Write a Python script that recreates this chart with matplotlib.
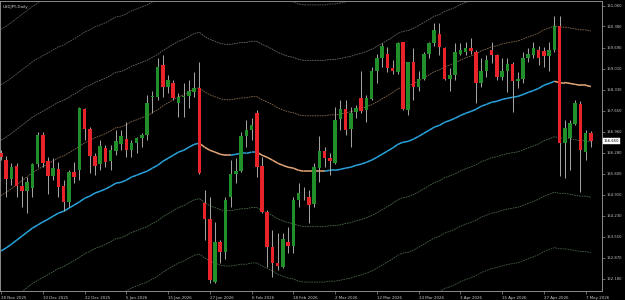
import numpy as np
import pandas as pd
import matplotlib
matplotlib.use("Agg")
import matplotlib.pyplot as plt
from matplotlib.collections import LineCollection

chart_title = "USDJPY,Daily"

# daily bars from 28 Nov 2025, no bars on these days
first_day = "2025-11-28"
no_bar_days = ["2025-12-25", "2026-01-01"]

opens = [156.26, 156.04, 155.42, 155.84, 155.19, 155.03, 155.13, 155.91, 156.85, 156.00,
         155.52, 155.74, 155.19, 154.68, 155.65, 155.71, 157.69, 157.04, 156.17, 155.91,
         156.43, 156.00, 156.33, 156.55, 156.72, 156.36, 156.59, 156.75, 156.85, 158.08,
         158.08, 159.12, 158.40, 158.56, 157.88, 158.08, 158.11, 158.24, 158.37, 154.64,
         154.12, 152.08, 153.38, 153.06, 154.84, 155.58, 155.68, 156.81, 157.01, 157.56,
         155.84, 154.35, 153.22, 152.70, 152.57, 153.38, 153.25, 154.74, 154.96, 154.84,
         154.61, 155.78, 156.33, 156.10, 155.94, 157.36, 157.69, 157.04, 157.59, 158.05,
         157.66, 158.01, 158.92, 159.34, 159.50, 159.02, 158.89, 159.86, 157.66, 159.21,
         158.43, 158.69, 159.47, 159.83, 160.15, 159.67, 158.69, 158.79, 159.50, 159.54,
         159.67, 159.54, 158.53, 158.92, 159.63, 159.44, 158.73, 158.95, 159.15, 158.60,
         158.69, 159.34, 159.44, 159.63, 159.57, 159.41, 159.60, 160.38, 156.59, 156.75,
         157.20, 157.85, 156.30, 156.91]
highs = [156.36, 156.17, 155.94, 155.94, 155.52, 155.49, 155.94, 156.94, 156.94, 156.13,
         156.10, 155.97, 155.39, 155.71, 155.97, 157.75, 157.72, 157.11, 156.26, 156.68,
         156.52, 156.52, 157.01, 157.01, 157.27, 156.68, 156.78, 156.91, 158.17, 158.30,
         159.34, 159.44, 158.79, 158.63, 158.21, 158.56, 158.63, 158.89, 159.24, 155.06,
         154.84, 154.03, 153.45, 154.84, 156.04, 156.10, 156.94, 157.33, 157.40, 157.66,
         156.13, 154.42, 153.77, 153.67, 153.67, 153.87, 154.84, 155.29, 155.16, 155.06,
         155.94, 156.81, 156.46, 156.26, 157.75, 157.98, 157.98, 157.75, 157.82, 158.95,
         158.14, 159.05, 159.50, 159.83, 159.70, 159.28, 159.86, 159.89, 159.24, 159.67,
         158.95, 159.54, 159.86, 160.48, 160.48, 159.70, 159.02, 159.83, 159.83, 159.86,
         160.02, 159.60, 159.34, 159.44, 159.86, 159.50, 159.34, 159.34, 159.21, 158.89,
         159.54, 159.67, 159.86, 159.76, 159.70, 159.86, 160.73, 160.73, 157.33, 157.33,
         157.98, 157.95, 157.01, 156.98]
lows = [156.04, 154.84, 155.23, 154.84, 154.51, 154.32, 154.84, 155.81, 155.81, 154.93,
        155.39, 154.84, 154.38, 154.51, 155.29, 155.39, 156.68, 155.62, 155.55, 155.71,
        155.81, 155.71, 156.20, 156.36, 156.13, 156.13, 156.26, 156.46, 156.68, 157.56,
        157.98, 158.08, 158.21, 157.98, 157.43, 157.43, 157.72, 158.08, 155.60, 153.45,
        152.05, 152.05, 152.70, 152.83, 154.51, 155.29, 155.65, 156.46, 156.68, 155.49,
        154.32, 152.57, 152.25, 152.47, 152.54, 153.02, 153.02, 154.51, 154.74, 153.99,
        154.51, 155.32, 155.81, 155.55, 155.91, 157.01, 156.85, 156.46, 157.40, 157.56,
        157.27, 157.98, 158.56, 159.05, 158.89, 158.85, 158.85, 157.66, 157.50, 157.98,
        158.30, 158.63, 159.37, 159.76, 159.44, 158.63, 158.30, 158.63, 159.44, 159.44,
        159.50, 157.88, 158.40, 158.73, 159.18, 158.63, 158.63, 158.24, 157.59, 158.37,
        158.53, 159.21, 159.37, 159.12, 159.08, 158.95, 159.54, 155.52, 155.45, 155.71,
        157.17, 155.00, 156.04, 156.46]
closes = [156.13, 155.42, 155.81, 155.19, 155.03, 155.32, 155.91, 156.85, 155.94, 155.52,
          155.78, 155.16, 154.68, 155.65, 155.49, 157.72, 157.04, 156.17, 155.84, 156.49,
          155.97, 156.36, 156.65, 156.81, 156.36, 156.59, 156.75, 156.85, 157.88, 158.11,
          159.08, 158.40, 158.63, 158.05, 158.08, 158.11, 158.27, 158.37, 155.62, 154.12,
          152.15, 153.38, 153.06, 154.74, 155.58, 155.68, 156.81, 157.01, 157.17, 155.81,
          154.35, 153.22, 152.70, 152.60, 153.48, 153.25, 154.74, 154.97, 154.97, 154.58,
          155.81, 156.33, 156.10, 156.00, 157.33, 157.69, 157.01, 157.56, 157.72, 157.62,
          158.05, 158.95, 159.34, 159.73, 159.02, 158.95, 159.83, 157.69, 159.21, 158.43,
          158.66, 159.50, 159.83, 160.28, 159.70, 158.69, 158.79, 159.54, 159.60, 159.67,
          159.57, 158.56, 158.92, 159.28, 159.44, 158.73, 158.95, 159.15, 158.60, 158.69,
          159.34, 159.47, 159.67, 159.34, 159.41, 159.63, 160.38, 156.59, 157.07, 157.24,
          157.88, 156.36, 156.91, 156.65]

# moving average (blue while rising, orange while falling)
ma_values = [153.09, 153.19, 153.31, 153.44, 153.57, 153.70, 153.83, 153.93, 154.03, 154.12,
             154.22, 154.32, 154.38, 154.48, 154.58, 154.68, 154.80, 154.87, 154.97, 155.03,
             155.10, 155.19, 155.29, 155.32, 155.39, 155.49, 155.55, 155.62, 155.68, 155.78,
             155.87, 156.00, 156.10, 156.20, 156.30, 156.36, 156.46, 156.55, 156.59, 156.46,
             156.36, 156.30, 156.23, 156.20, 156.20, 156.23, 156.26, 156.26, 156.30, 156.30,
             156.20, 156.13, 156.04, 155.94, 155.87, 155.81, 155.78, 155.71, 155.68, 155.68,
             155.68, 155.68, 155.68, 155.71, 155.71, 155.74, 155.78, 155.81, 155.87, 155.91,
             155.97, 156.04, 156.13, 156.23, 156.33, 156.43, 156.55, 156.62, 156.65, 156.72,
             156.81, 156.91, 157.01, 157.11, 157.17, 157.27, 157.33, 157.40, 157.49, 157.56,
             157.62, 157.69, 157.79, 157.85, 157.92, 157.95, 158.01, 158.05, 158.08, 158.11,
             158.17, 158.24, 158.30, 158.37, 158.47, 158.53, 158.60, 158.56, 158.56, 158.53,
             158.50, 158.47, 158.47, 158.43]

# envelope levels around the average
band_offsets = [1.80, 3.60, 5.40, 7.20]
upper_colors = ["#8a6a4e", "#6a6a6a", "#5e5e5e", "#5a5a5a"]
lower_colors = ["#4c6e4c", "#4a654a", "#465e46", "#445a44"]

price_ticks = [161.060, 160.380, 159.690, 159.010, 158.330, 157.650, 156.960,
               156.280, 155.600, 154.910, 154.230, 153.550, 152.870, 152.180]
last_price = 156.650

dates = pd.bdate_range(first_day, periods=len(opens) + len(no_bar_days))
dates = dates[~dates.isin(pd.to_datetime(no_bar_days))][:len(opens)]
x = np.arange(len(opens))

fig = plt.figure(figsize=(6.25, 3.0), dpi=100, facecolor="black")
ax = fig.add_axes([0.0, 0.03, 0.9632, 0.968], facecolor="black")

# envelope bands
ma = np.array(ma_values)
for off, cu, cl in zip(band_offsets, upper_colors, lower_colors):
    ax.plot(x, ma + off, color=cu, lw=0.6, ls=(0, (2, 1)), zorder=1)
    ax.plot(x, ma - off, color=cl, lw=0.6, ls=(0, (2, 1)), zorder=1)

# moving average coloured by direction
segs = np.stack([np.column_stack([x[:-1], ma[:-1]]), np.column_stack([x[1:], ma[1:]])], axis=1)
cols = []
last = "#29a3dc"
for d in np.diff(ma):
    if d > 0:
        last = "#29a3dc"
    elif d < 0:
        last = "#e6a77a"
    cols.append(last)
ax.add_collection(LineCollection(segs, colors=cols, linewidths=1.1, zorder=2))

# candles
o = np.array(opens)
c = np.array(closes)
up = c >= o
ax.vlines(x, lows, highs, color="#a8a8a8", lw=0.7, zorder=3)
body = np.maximum(np.abs(c - o), 0.025)
ax.bar(x[up], body[up], bottom=o[up], width=0.68, color="#22902a", zorder=4)
ax.bar(x[~up], body[~up], bottom=c[~up], width=0.68, color="#e8232a", zorder=4)

ax.set_xlim(-0.19, 115.13)
ax.set_ylim(151.79, 161.22)

# date axis, a label every 8 bars
tick_idx = x[::8]
ax.set_xticks(tick_idx)
ax.set_xticklabels([f"{d.day} {d.strftime('%b %Y')}" for d in dates[tick_idx]],
                   ha="left", fontsize=2.9, color="#c8c8c8")
ax.tick_params(axis="x", colors="#909090", length=2.5, width=0.5, pad=0.8,
               labelcolor="#c8c8c8")

# price axis on the right
ax.yaxis.tick_right()
ax.set_yticks(price_ticks)
ax.set_yticklabels([f"{p:.3f}" for p in price_ticks], fontsize=2.7, color="#c8c8c8")
ax.tick_params(axis="y", colors="#909090", length=2.0, width=0.5, pad=1.2,
               labelcolor="#c8c8c8")

for s in ax.spines.values():
    s.set_color("#8a8a8a")
    s.set_linewidth(0.7)

ax.text(1.003, last_price, f"{last_price:.3f}", transform=ax.get_yaxis_transform(),
        fontsize=2.7, color="black", va="center", ha="left",
        bbox=dict(boxstyle="square,pad=0.25", fc="white", ec="white", lw=0.3))

ax.text(0.004, 0.985, chart_title, transform=ax.transAxes, fontsize=2.9,
        color="#d0d0d0", va="top", ha="left")

fig.savefig("out.png", dpi=100, facecolor="black")
